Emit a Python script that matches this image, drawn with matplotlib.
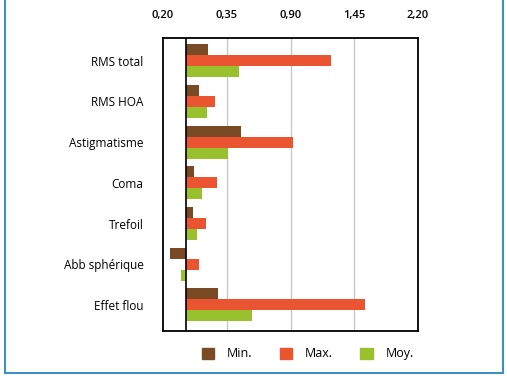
import matplotlib.pyplot as plt
from matplotlib.lines import Line2D
from matplotlib.patches import Patch
import numpy as np

categories = ["RMS total", "RMS HOA", "Astigmatisme", "Coma", "Trefoil",
              "Abb sphérique", "Effet flou"]
min_vals = [0.21, 0.12, 0.52, 0.07, 0.06, -0.15, 0.30]
max_vals = [1.37, 0.27, 1.01, 0.29, 0.19, 0.12, 1.70]
moy_vals = [0.50, 0.20, 0.40, 0.15, 0.10, -0.05, 0.62]
tick_labels = ["0,20", "0,35", "0,90", "1,45", "2,20"]

c_min = "#7a4a25"
c_max = "#ea5430"
c_moy = "#99c12e"

plt.rcParams['font.family'] = ['Open Sans', 'DejaVu Sans']

fig = plt.figure(figsize=(5.07, 3.86), dpi=100)
ax = fig.add_axes([0.3215, 0.1425, 0.503, 0.759])

y = np.arange(len(categories))
h = 0.27
ax.barh(y - h, min_vals, height=h, color=c_min, zorder=3)
ax.barh(y, max_vals, height=h, color=c_max, zorder=3)
ax.barh(y + h, moy_vals, height=h, color=c_moy, zorder=3)

ax.set_xlim(-0.22, 2.2)
ax.set_ylim(6.64, -0.56)
ticks = np.linspace(-0.22, 2.2, 5)
ax.set_xticks(ticks)
ax.set_xticklabels(tick_labels, fontsize=8, fontweight='semibold')
ax.xaxis.tick_top()
ax.tick_params(axis='x', length=0, pad=12)
ax.set_yticks(y)
ax.set_yticklabels(categories, fontsize=8.5)
ax.tick_params(axis='y', length=0, pad=14)
for t in ticks[1:-1]:
    ax.axvline(t, color="#c8c8c8", lw=1, zorder=1)
ax.axvline(0, color="black", lw=1.2, zorder=4)
for s in ax.spines.values():
    s.set_linewidth(1.3)

handles = [Patch(color=c_min, label="Min."), Patch(color=c_max, label="Max."),
           Patch(color=c_moy, label="Moy.")]
fig.legend(handles=handles, loc="center", bbox_to_anchor=(0.607, 0.083), ncol=3,
           frameon=False, fontsize=9, handlelength=1.0, handleheight=1.0,
           columnspacing=2.2, handletextpad=1.0)

# blue frame around the figure
blue = "#3e8fc2"
fig.add_artist(Line2D([5/507, 5/507], [1, 1 - 373/386], color=blue, lw=1.5))
fig.add_artist(Line2D([503/507, 503/507], [1, 1 - 373/386], color=blue, lw=1.5))
fig.add_artist(Line2D([5/507, 503/507], [1 - 373/386, 1 - 373/386], color=blue, lw=1.5))

fig.savefig("out.png", dpi=100)
